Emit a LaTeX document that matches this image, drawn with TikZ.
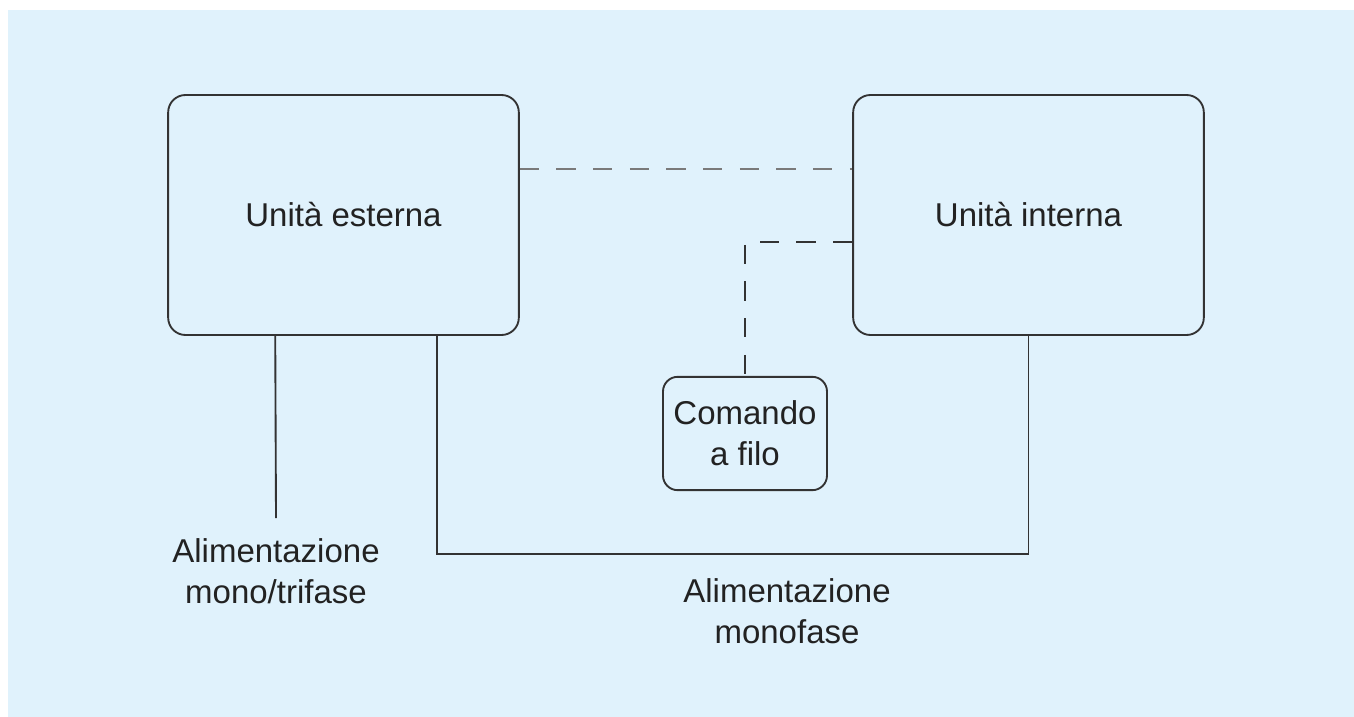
\documentclass[tikz,border=0pt]{standalone}
\usepackage{fontspec}
\setmainfont{Liberation Sans}
\usetikzlibrary{calc}
\definecolor{bgblue}{HTML}{E0F2FC}
\definecolor{linedark}{HTML}{333333}
\definecolor{linegray}{HTML}{7A7A7A}
\definecolor{txt}{HTML}{222222}
\tikzset{
  unitbox/.style={draw=linedark, line width=1.4pt, rounded corners=13pt,
    minimum width=263pt, minimum height=180pt, inner sep=0pt,
    text=txt, font=\fontsize{24.75}{30}\selectfont},
  smallbox/.style={draw=linedark, line width=1.4pt, rounded corners=11pt,
    minimum width=123pt, minimum height=85pt, inner sep=0pt, align=center,
    text=txt, font=\fontsize{24.75}{30.5}\selectfont},
  label/.style={align=center, inner sep=0pt, text=txt,
    font=\fontsize{24.75}{30.5}\selectfont},
  wire/.style={draw=linedark, line width=1.4pt},
  signal/.style={line width=1.4pt, dash pattern=on 14.5pt off 13pt},
}
\begin{document}
\begin{tikzpicture}[x=0.75pt, y=-0.75pt]
  % page and background panel
  \useasboundingbox (0,0) rectangle (1354,717);
  \fill[white] (0,0) rectangle (1354,717);
  \fill[bgblue] (8,10) rectangle (1354,717);

  % units
  \node[unitbox] (ext) at (343.5,215) {Unità esterna};
  \node[unitbox] (int) at (1028.5,215) {Unità interna};
  \node[smallbox] (cmd) at (745,433.5) {Comando\\a filo};

  % supply labels
  \node[label] (supA) at (276,571) {Alimentazione\\mono/trifase};
  \node[label] (supB) at (787,611) {Alimentazione\\monofase};

  % named points for the wiring
  \coordinate (extA) at ($(ext.south west)+(108,0)$);
  \coordinate (extB) at ($(ext.south west)+(270,0)$);
  \coordinate (endA) at (276,518);
  \coordinate (busY) at (0,554);
  \coordinate (linkY) at (0,169);
  \coordinate (ctrlY) at (0,242);

  % signal lines
  \draw[signal, draw=linegray] (ext.east |- linkY) -- (int.west |- linkY);
  \draw[signal, draw=linedark] (int.west |- ctrlY) -| (cmd.north);

  % power lines
  \draw[wire] (extA) -- (endA);
  \draw[wire] (extB) |- (busY -| int.south) -- (int.south);
\end{tikzpicture}
\end{document}
